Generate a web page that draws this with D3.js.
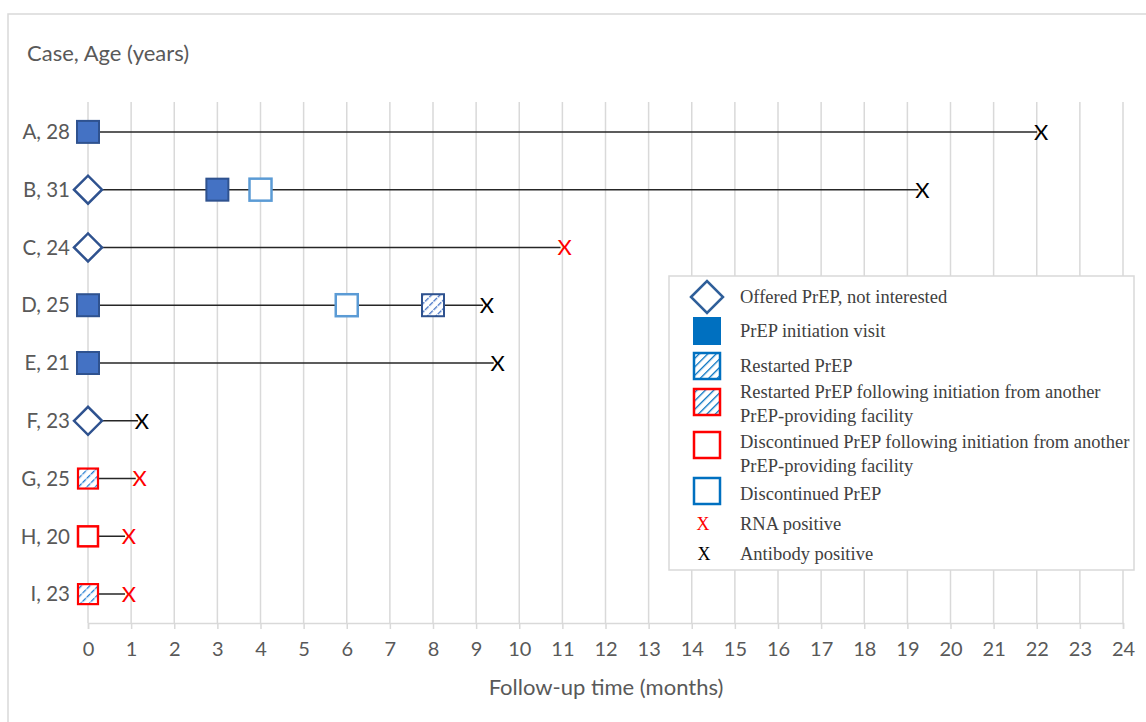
<!DOCTYPE html>
<html>
<head>
<meta charset="utf-8">
<script src="https://cdn.jsdelivr.net/npm/d3@7"></script>
<style>
  body { margin: 0; background: #fff; }
</style>
</head>
<body>
<div id="chart"></div>
<script>
// cases (y categories) and the end of follow-up for each
const cases = ["A, 28", "B, 31", "C, 24", "D, 25", "E, 21", "F, 23", "G, 25", "H, 20", "I, 23"]
const endTimes = [22.1, 19.35, 11.05, 9.25, 9.5, 1.25, 1.2, 0.95, 0.95]
const endTypes = ["antibody", "antibody", "rna", "antibody", "antibody", "antibody", "rna", "rna", "rna"]

// visit events along each line
const eventCase = ["A", "B", "B", "B", "C", "D", "D", "D", "E", "F", "G", "H", "I"]
const eventTime = [0, 0, 3, 4, 0, 0, 6, 8, 0, 0, 0, 0, 0]
const eventType = ["initiation", "offered", "initiation", "discontinued", "offered",
  "initiation", "discontinued", "restarted", "initiation", "offered",
  "restartedOther", "discontinuedOther", "restartedOther"]

const xTicks = d3.range(0, 25)

const legendLabels = [
  ["Offered PrEP, not interested"],
  ["PrEP initiation visit"],
  ["Restarted PrEP"],
  ["Restarted PrEP following initiation from another", "PrEP-providing facility"],
  ["Discontinued PrEP following initiation from another", "PrEP-providing facility"],
  ["Discontinued PrEP"],
  ["RNA positive"],
  ["Antibody positive"]
]
const legendTypes = ["offered", "initiation", "restarted", "restartedOther", "discontinuedOther", "discontinued", "rna", "antibody"]

const W = 1146, H = 722
const MARGIN = { LEFT: 88, RIGHT: 23, TOP: 103, BOTTOM: 99 }
const WIDTH = W - MARGIN.LEFT - MARGIN.RIGHT
const HEIGHT = H - MARGIN.TOP - MARGIN.BOTTOM
const SANS = "Lato, 'Open Sans', sans-serif"
const SERIF = "'Liberation Serif', 'DejaVu Serif', serif"

const svg = d3.select("#chart").append("svg")
  .attr("width", W)
  .attr("height", H)

// hatch patterns
const defs = svg.append("defs")
function hatch(id, color, dash) {
  const p = defs.append("pattern")
    .attr("id", id)
    .attr("patternUnits", "userSpaceOnUse")
    .attr("width", 6).attr("height", 6)
    .attr("patternTransform", "rotate(45)")
  p.append("rect").attr("width", 6).attr("height", 6).attr("fill", "#fff")
  p.append("line")
    .attr("x1", 0).attr("y1", 0).attr("x2", 0).attr("y2", 6)
    .attr("stroke", color).attr("stroke-width", 2.6)
    .attr("stroke-dasharray", dash)
}
hatch("hatchDark", "#4472C4", "4,1")
hatch("hatchLight", "#1F7BD0", "2.5,1")
hatch("hatchLegend", "#0070C0", "none")

// outer frame
svg.append("rect")
  .attr("x", 8).attr("y", 14)
  .attr("width", W + 20).attr("height", H + 20)
  .attr("fill", "none")
  .attr("stroke", "#d9d9d9")
  .attr("stroke-width", 1.5)

const g = svg.append("g")
  .attr("transform", `translate(${MARGIN.LEFT}, ${MARGIN.TOP})`)

const x = d3.scaleLinear().domain([0, 24]).range([0, WIDTH])
const y = d3.scaleBand().domain(cases).range([0, HEIGHT])
const yc = c => y(c) + y.bandwidth() / 2
const caseOf = letter => cases.find(c => c.startsWith(letter))

// gridlines
g.append("g").selectAll("line")
  .data(xTicks)
  .enter().append("line")
  .attr("x1", d => x(d)).attr("x2", d => x(d))
  .attr("y1", -1).attr("y2", HEIGHT)
  .attr("stroke", "#d9d9d9")
  .attr("stroke-width", 1.5)

// x axis
const xAxis = g.append("g")
  .attr("transform", `translate(0, ${HEIGHT})`)
  .call(d3.axisBottom(x).tickValues(xTicks).tickSize(6).tickPadding(13).tickFormat(d3.format("d")))
xAxis.select(".domain").attr("stroke", "#d9d9d9").attr("stroke-width", 1.5)
xAxis.selectAll(".tick line").attr("stroke", "#d9d9d9").attr("stroke-width", 1.5)
xAxis.selectAll("text")
  .attr("fill", "#595959")
  .attr("font-family", SANS)
  .attr("font-size", "20px")

// y labels
g.append("g").selectAll("text")
  .data(cases)
  .enter().append("text")
  .attr("x", -18)
  .attr("y", d => yc(d))
  .attr("dy", "0.35em")
  .attr("text-anchor", "end")
  .attr("fill", "#595959")
  .attr("font-family", SANS)
  .attr("font-size", "20.5px")
  .text(d => d)

// titles
svg.append("text")
  .attr("x", 27).attr("y", 61)
  .attr("fill", "#595959")
  .attr("font-family", SANS)
  .attr("font-size", "22px")
  .text("Case, Age (years)")

svg.append("text")
  .attr("x", 606).attr("y", 695)
  .attr("text-anchor", "middle")
  .attr("fill", "#595959")
  .attr("font-family", SANS)
  .attr("font-size", "22px")
  .text("Follow-up time (months)")

// follow-up lines
g.append("g").selectAll("line")
  .data(cases)
  .enter().append("line")
  .attr("x1", x(0))
  .attr("x2", (d, i) => x(endTimes[i]) - 4)
  .attr("y1", d => yc(d)).attr("y2", d => yc(d))
  .attr("stroke", "#262626")
  .attr("stroke-width", 1.5)

// marker drawing
const styles = {
  offered: { shape: "diamond", size: 14, fill: "#fff", stroke: "#2F528F", sw: 2.5 },
  initiation: { shape: "square", size: 11, fill: "#4472C4", stroke: "#2F528F", sw: 2 },
  discontinued: { shape: "square", size: 11, fill: "#fff", stroke: "#5B9BD5", sw: 2.5 },
  restarted: { shape: "square", size: 11, fill: "url(#hatchDark)", stroke: "#2F528F", sw: 2 },
  restartedOther: { shape: "square", size: 10, fill: "url(#hatchLight)", stroke: "#FF0000", sw: 2.2 },
  discontinuedOther: { shape: "square", size: 10, fill: "#fff", stroke: "#FF0000", sw: 2.5 }
}

function drawMarker(sel, type, cx, cy) {
  const s = styles[type]
  const r = s.size
  if (s.shape === "diamond") {
    sel.append("path")
      .attr("d", `M${cx - r},${cy} L${cx},${cy - r} L${cx + r},${cy} L${cx},${cy + r} Z`)
      .attr("fill", s.fill).attr("stroke", s.stroke).attr("stroke-width", s.sw)
  } else {
    sel.append("rect")
      .attr("x", cx - r).attr("y", cy - r)
      .attr("width", 2 * r).attr("height", 2 * r)
      .attr("fill", s.fill).attr("stroke", s.stroke).attr("stroke-width", s.sw)
  }
}

const markers = g.append("g")
eventType.forEach((t, i) => {
  drawMarker(markers, t, x(eventTime[i]), yc(caseOf(eventCase[i])))
})

// end-point X marks
g.append("g").selectAll("text")
  .data(cases)
  .enter().append("text")
  .attr("x", (d, i) => x(endTimes[i]))
  .attr("y", d => yc(d))
  .attr("dy", "0.36em")
  .attr("text-anchor", "middle")
  .attr("fill", (d, i) => endTypes[i] === "rna" ? "#FF0000" : "#000")
  .attr("font-family", SANS)
  .attr("font-size", "22px")
  .text("X")

// legend
const legend = svg.append("g")
legend.append("rect")
  .attr("x", 669).attr("y", 276)
  .attr("width", 465).attr("height", 294)
  .attr("fill", "#fff")
  .attr("stroke", "#d9d9d9")
  .attr("stroke-width", 1.5)

const legendY = [297, 331, 366, 402, 445, 491, 524, 554]
const legendTextY = [[297], [331], [366], [392, 416], [442, 466], [494], [524], [554]]
const legendStyles = {
  offered: { shape: "diamond", size: 16, fill: "#fff", stroke: "#2F5F9A", sw: 2.5 },
  initiation: { shape: "square", size: 14, fill: "#0070C0", stroke: "#0070C0", sw: 0 },
  restarted: { shape: "square", size: 13, fill: "url(#hatchLegend)", stroke: "#0070C0", sw: 2.5 },
  restartedOther: { shape: "square", size: 13, fill: "url(#hatchLegend)", stroke: "#FF0000", sw: 2.5 },
  discontinuedOther: { shape: "square", size: 13, fill: "#fff", stroke: "#FF0000", sw: 2.5 },
  discontinued: { shape: "square", size: 13, fill: "#fff", stroke: "#0070C0", sw: 2.5 }
}

legendTypes.forEach((t, i) => {
  const cy = legendY[i]
  const s = legendStyles[t]
  if (s) {
    const r = s.size
    if (s.shape === "diamond") {
      legend.append("path")
        .attr("d", `M${707 - r},${cy} L${707},${cy - r} L${707 + r},${cy} L${707},${cy + r} Z`)
        .attr("fill", s.fill).attr("stroke", s.stroke).attr("stroke-width", s.sw)
    } else {
      legend.append("rect")
        .attr("x", 707 - r).attr("y", cy - r)
        .attr("width", 2 * r).attr("height", 2 * r)
        .attr("fill", s.fill).attr("stroke", s.stroke).attr("stroke-width", s.sw)
    }
  } else {
    legend.append("text")
      .attr("x", t === "rna" ? 703 : 704).attr("y", cy)
      .attr("dy", "0.35em")
      .attr("text-anchor", "middle")
      .attr("fill", t === "rna" ? "#FF0000" : "#000")
      .attr("font-family", SERIF)
      .attr("font-size", "18px")
      .text("X")
  }
  const txt = legend.append("text")
    .attr("fill", "#404040")
    .attr("font-family", SERIF)
    .attr("font-size", "18.5px")
  legendLabels[i].forEach((ln, j) => {
    txt.append("tspan").attr("x", 740).attr("y", legendTextY[i][j]).attr("dy", "0.35em").text(ln)
  })
})
</script>
</body>
</html>
